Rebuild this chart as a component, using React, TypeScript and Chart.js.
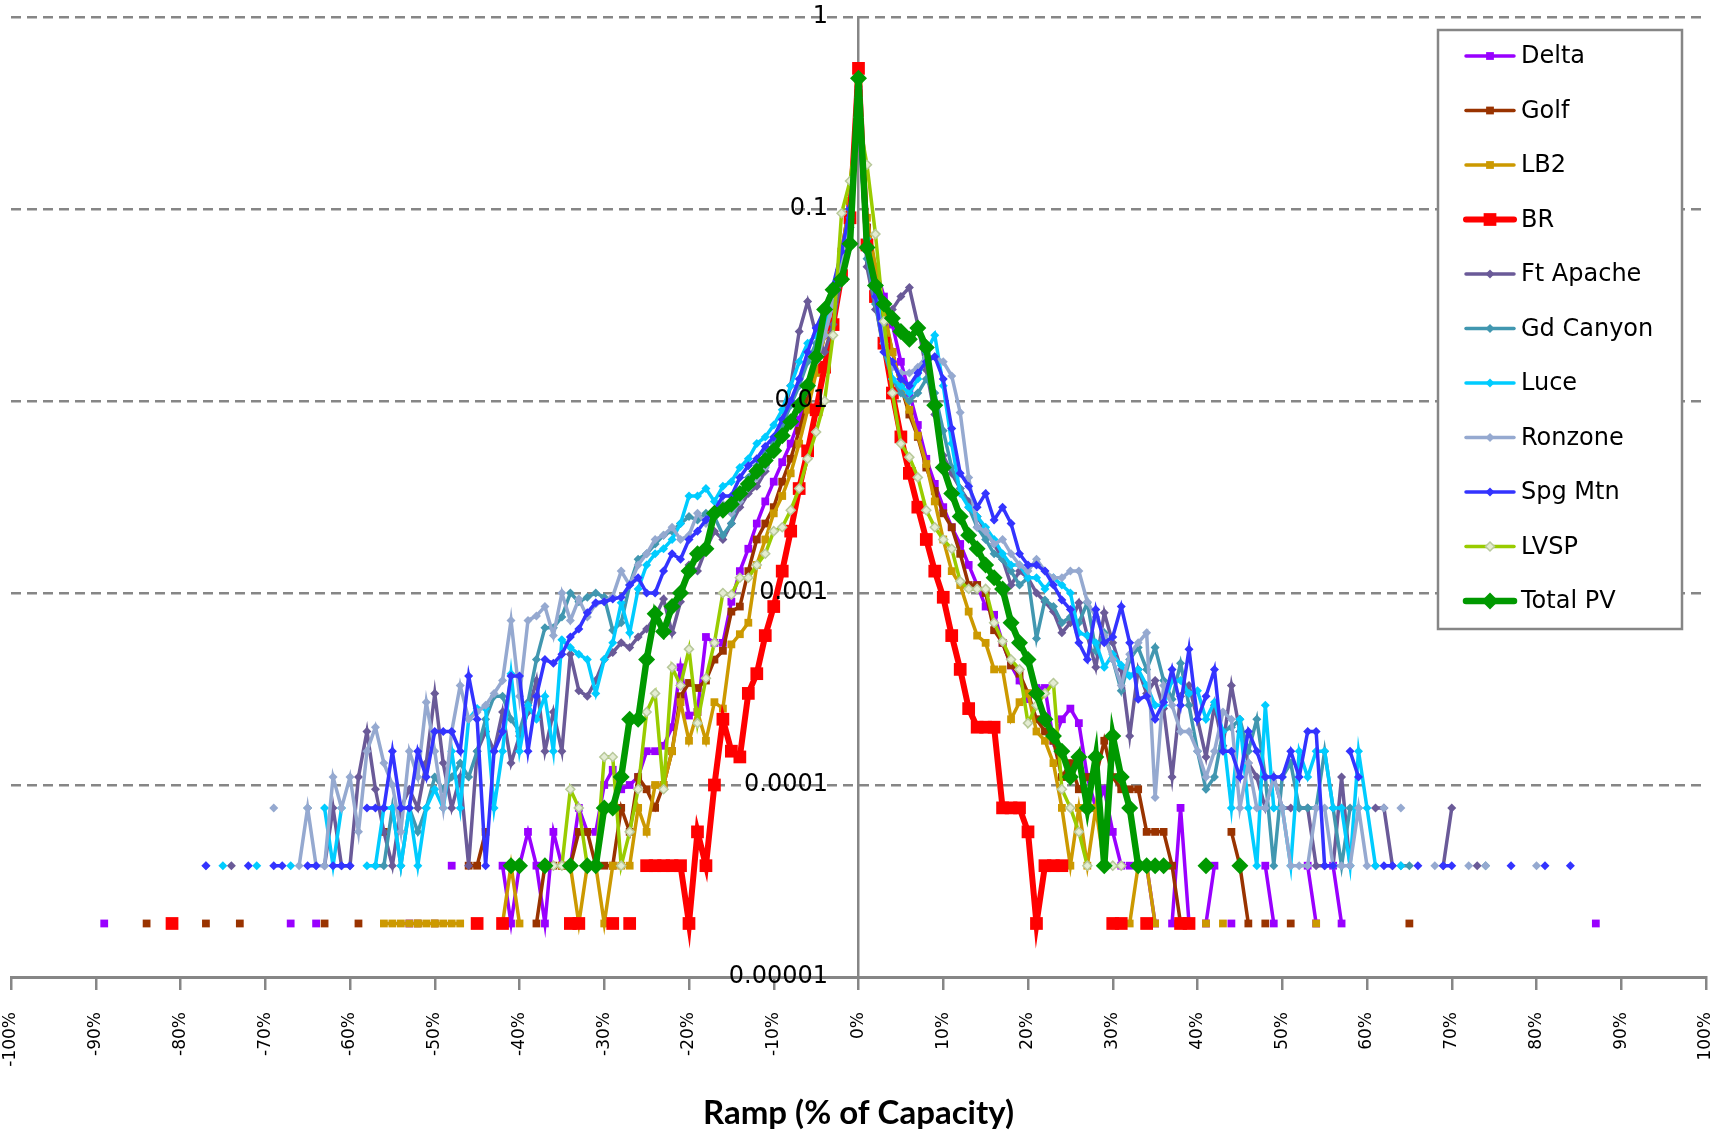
import React, { useEffect, useRef } from "react";
import { Chart, registerables } from "chart.js";

Chart.register(...registerables);

type Pt = [number, number];

// ramp bins (% of capacity), one per 1 %
const RAMP_BINS: number[] = Array.from({ length: 201 }, (_, i) => i - 100);
const X_TICKS = [-100, -90, -80, -70, -60, -50, -40, -30, -20, -10, 0, 10, 20, 30, 40, 50, 60, 70, 80, 90, 100];
const Y_TICKS = [0.00001, 0.0001, 0.001, 0.01, 0.1, 1];
const SERIES_NAMES = ["Delta", "Golf", "LB2", "BR", "Ft Apache", "Gd Canyon", "Luce", "Ronzone", "Spg Mtn", "LVSP", "Total PV"];

const DELTA: Pt[] = [
  [-89, 1.9e-5], [-67, 1.9e-5], [-64, 1.9e-5], [-53, 1.9e-5], [-48, 3.8e-5],
  [-42, 3.8e-5], [-41, 1.9e-5], [-40, 3.8e-5], [-39, 5.7e-5], [-38, 3.8e-5], [-37, 1.9e-5], [-36, 5.7e-5],
  [-35, 3.8e-5], [-34, 3.8e-5], [-33, 7.6e-5], [-32, 5.7e-5], [-31, 5.7e-5], [-30, 1.0e-4], [-29, 1.2e-4],
  [-28, 9.5e-5], [-27, 1.0e-4], [-26, 1.1e-4], [-25, 1.5e-4], [-24, 1.5e-4], [-23, 1.6e-4], [-22, 2.0e-4],
  [-21, 4.1e-4], [-20, 2.3e-4], [-19, 2.4e-4], [-18, 5.9e-4], [-17, 5.5e-4], [-16, 5.5e-4], [-15, 9.0e-4],
  [-14, 1.3e-3], [-13, 1.7e-3], [-12, 2.3e-3], [-11, 3.0e-3], [-10, 3.8e-3], [-9, 4.8e-3], [-8, 6.0e-3],
  [-7, 8.0e-3], [-6, 1.1e-2], [-5, 1.6e-2], [-4, 2.4e-2], [-3, 3.5e-2], [-2, 5.5e-2], [-1, 0.1], [0, 0.42],
  [1, 0.08], [2, 0.05], [3, 0.035], [4, 0.025], [5, 0.016], [6, 0.011], [7, 0.0075], [8, 0.005], [9, 0.0037],
  [10, 0.0028], [11, 0.0022], [12, 0.0018], [13, 0.0014], [14, 0.0011], [15, 8.5e-4], [16, 7.7e-4], [17, 5.5e-4],
  [18, 4.2e-4], [19, 3.5e-4], [20, 2.8e-4], [21, 3.2e-4], [22, 3.2e-4], [23, 1.7e-4], [24, 2.2e-4], [25, 2.5e-4],
  [26, 2.1e-4], [27, 1.1e-4], [28, 7.6e-5], [29, 9.5e-5], [30, 5.7e-5], [31, 3.8e-5], [32, 3.8e-5],
  [34, 3.8e-5], [35, 1.9e-5], [37, 1.9e-5], [38, 7.6e-5], [39, 1.9e-5], [41, 1.9e-5], [42, 3.8e-5],
  [44, 1.9e-5], [48, 3.8e-5], [49, 1.9e-5], [53, 3.8e-5], [54, 1.9e-5], [56, 3.8e-5], [57, 1.9e-5], [87, 1.9e-5],
];

const GOLF: Pt[] = [
  [-84, 1.9e-5], [-77, 1.9e-5], [-73, 1.9e-5], [-63, 1.9e-5], [-59, 1.9e-5], [-56, 5.7e-5], [-52, 1.9e-5],
  [-50, 1.9e-5], [-46, 3.8e-5], [-45, 3.8e-5], [-44, 5.7e-5], [-38, 1.9e-5], [-37, 3.8e-5], [-36, 3.8e-5],
  [-35, 3.8e-5], [-34, 3.8e-5], [-33, 5.7e-5], [-32, 5.7e-5], [-31, 3.8e-5], [-30, 3.8e-5], [-29, 3.8e-5],
  [-28, 7.6e-5], [-27, 5.7e-5], [-26, 1.1e-4], [-25, 9.5e-5], [-24, 7.6e-5], [-23, 1.0e-4], [-22, 1.5e-4],
  [-21, 2.9e-4], [-20, 3.4e-4], [-19, 3.2e-4], [-18, 3.5e-4], [-17, 4.5e-4], [-16, 5.0e-4], [-15, 8.0e-4],
  [-14, 8.5e-4], [-13, 1.3e-3], [-12, 1.9e-3], [-11, 2.3e-3], [-10, 2.8e-3], [-9, 3.8e-3], [-8, 5.0e-3],
  [-7, 7.0e-3], [-6, 1.0e-2], [-5, 1.5e-2], [-4, 2.2e-2], [-3, 3.5e-2], [-2, 6.0e-2], [-1, 0.11], [0, 0.4],
  [1, 0.08], [2, 0.045], [3, 0.028], [4, 0.018], [5, 0.012], [6, 0.0085], [7, 0.0065], [8, 0.0045], [9, 0.0034],
  [10, 0.0026], [11, 0.0022], [12, 0.0016], [13, 0.0011], [14, 0.0011], [15, 0.001], [16, 6.4e-4], [17, 5.5e-4],
  [18, 4.2e-4], [19, 3.8e-4], [20, 3.0e-4], [21, 2.2e-4], [22, 1.9e-4], [23, 1.7e-4], [24, 1.1e-4], [25, 1.3e-4],
  [26, 9.5e-5], [27, 1.1e-4], [28, 1.1e-4], [29, 1.7e-4], [30, 1.1e-4], [31, 9.5e-5], [32, 9.5e-5], [33, 9.5e-5],
  [34, 5.7e-5], [35, 5.7e-5], [36, 5.7e-5], [37, 3.8e-5], [38, 1.9e-5], [44, 5.7e-5], [45, 3.8e-5], [46, 1.9e-5],
  [48, 1.9e-5], [51, 1.9e-5], [65, 1.9e-5],
];

const LB2: Pt[] = [
  [-56, 1.9e-5], [-55, 1.9e-5], [-54, 1.9e-5], [-53, 1.9e-5], [-52, 1.9e-5], [-51, 1.9e-5], [-50, 1.9e-5],
  [-49, 1.9e-5], [-48, 1.9e-5], [-47, 1.9e-5], [-42, 1.9e-5], [-41, 3.8e-5], [-40, 1.9e-5], [-35, 3.8e-5],
  [-34, 3.8e-5], [-33, 1.9e-5], [-32, 3.8e-5], [-31, 3.8e-5], [-30, 1.9e-5], [-29, 3.8e-5], [-28, 3.8e-5],
  [-27, 3.8e-5], [-26, 7.6e-5], [-25, 5.7e-5], [-24, 1.0e-4], [-23, 1.0e-4], [-22, 1.5e-4], [-21, 2.7e-4],
  [-20, 1.7e-4], [-19, 2.4e-4], [-18, 1.7e-4], [-17, 2.7e-4], [-16, 2.5e-4], [-15, 5.4e-4], [-14, 6.1e-4],
  [-13, 7.0e-4], [-12, 1.4e-3], [-11, 1.9e-3], [-10, 2.6e-3], [-9, 3.2e-3], [-8, 4.2e-3], [-7, 6.0e-3],
  [-6, 9.0e-3], [-5, 1.4e-2], [-4, 2.2e-2], [-3, 3.5e-2], [-2, 6.0e-2], [-1, 0.11], [0, 0.45],
  [1, 0.09], [2, 0.05], [3, 0.03], [4, 0.018], [5, 0.012], [6, 0.009], [7, 0.0066], [8, 0.0047], [9, 0.003],
  [10, 0.0019], [11, 0.0013], [12, 0.0011], [13, 8.0e-4], [14, 6.0e-4], [15, 5.5e-4], [16, 4.0e-4], [17, 4.0e-4],
  [18, 2.2e-4], [19, 2.7e-4], [20, 3.0e-4], [21, 1.9e-4], [22, 1.7e-4], [23, 1.3e-4], [24, 7.6e-5], [25, 3.8e-5],
  [26, 7.6e-5], [27, 3.8e-5], [28, 7.6e-5], [29, 3.8e-5], [31, 1.9e-5], [32, 1.9e-5], [33, 3.8e-5], [34, 3.8e-5],
  [35, 1.9e-5], [41, 1.9e-5], [43, 1.9e-5], [54, 1.9e-5],
];

const BR: Pt[] = [
  [-81, 1.9e-5], [-45, 1.9e-5], [-42, 1.9e-5], [-34, 1.9e-5], [-33, 1.9e-5], [-29, 1.9e-5], [-27, 1.9e-5],
  [-25, 3.8e-5], [-24, 3.8e-5], [-23, 3.8e-5], [-22, 3.8e-5], [-21, 3.8e-5], [-20, 1.9e-5], [-19, 5.7e-5],
  [-18, 3.8e-5], [-17, 1.0e-4], [-16, 2.2e-4], [-15, 1.5e-4], [-14, 1.4e-4], [-13, 3.0e-4], [-12, 3.8e-4],
  [-11, 6.0e-4], [-10, 8.5e-4], [-9, 1.3e-3], [-8, 2.1e-3], [-7, 3.5e-3], [-6, 5.5e-3], [-5, 9.0e-3],
  [-4, 1.5e-2], [-3, 2.5e-2], [-2, 4.5e-2], [-1, 0.09], [0, 0.54],
  [1, 0.065], [2, 0.035], [3, 0.02], [4, 0.011], [5, 0.0065], [6, 0.0042], [7, 0.0028], [8, 0.0019], [9, 0.0013],
  [10, 9.5e-4], [11, 6.0e-4], [12, 4.0e-4], [13, 2.5e-4], [14, 2.0e-4], [15, 2.0e-4], [16, 2.0e-4], [17, 7.6e-5],
  [18, 7.6e-5], [19, 7.6e-5], [20, 5.7e-5], [21, 1.9e-5], [22, 3.8e-5], [23, 3.8e-5], [24, 3.8e-5],
  [30, 1.9e-5], [31, 1.9e-5], [34, 1.9e-5], [38, 1.9e-5], [39, 1.9e-5],
];

const FT_APACHE: Pt[] = [
  [-74, 3.8e-5], [-63, 3.8e-5], [-62, 7.6e-5], [-61, 3.8e-5], [-60, 3.8e-5], [-59, 1.1e-4], [-58, 1.9e-4],
  [-57, 9.5e-5], [-56, 5.7e-5], [-55, 3.8e-5], [-54, 7.6e-5], [-53, 9.5e-5], [-52, 7.6e-5], [-51, 1.3e-4],
  [-50, 3.0e-4], [-49, 1.3e-4], [-48, 7.6e-5], [-47, 1.1e-4], [-46, 3.8e-5], [-45, 1.5e-4], [-44, 1.9e-4],
  [-43, 1.5e-4], [-42, 2.4e-4], [-41, 1.3e-4], [-40, 1.8e-4], [-39, 2.4e-4], [-38, 3.5e-4], [-37, 1.5e-4],
  [-36, 2.4e-4], [-35, 1.5e-4], [-34, 4.8e-4], [-33, 3.1e-4], [-32, 2.9e-4], [-31, 3.5e-4], [-30, 4.5e-4],
  [-29, 4.9e-4], [-28, 5.5e-4], [-27, 5.2e-4], [-26, 5.9e-4], [-25, 6.5e-4], [-24, 7.5e-4], [-23, 9.3e-4],
  [-22, 6.2e-4], [-21, 9.0e-4], [-20, 1.4e-3], [-19, 1.3e-3], [-18, 1.7e-3], [-17, 2.1e-3], [-16, 1.9e-3],
  [-15, 2.3e-3], [-14, 2.8e-3], [-13, 3.3e-3], [-12, 3.6e-3], [-11, 4.3e-3], [-10, 5.5e-3], [-9, 8.0e-3],
  [-8, 1.2e-2], [-7, 2.3e-2], [-6, 3.3e-2], [-5, 2.2e-2], [-4, 1.8e-2], [-3, 2.5e-2], [-2, 4.5e-2], [-1, 0.08],
  [0, 0.35], [1, 0.05], [2, 0.03], [3, 0.025], [4, 0.03], [5, 0.035], [6, 0.039], [7, 0.025], [8, 0.0145],
  [9, 0.0085], [10, 0.0052], [11, 0.0042], [12, 0.0035], [13, 0.003], [14, 0.0025], [15, 0.0021], [16, 0.0018],
  [17, 0.0015], [18, 0.0011], [19, 0.0013], [20, 0.0012], [21, 0.001], [22, 9.0e-4], [23, 8.0e-4], [24, 6.2e-4],
  [25, 7.0e-4], [26, 8.9e-4], [27, 6.0e-4], [28, 4.1e-4], [29, 7.9e-4], [30, 5.5e-4], [31, 4.0e-4], [32, 1.8e-4],
  [33, 4.0e-4], [34, 3.0e-4], [35, 3.5e-4], [36, 2.5e-4], [37, 1.1e-4], [38, 2.9e-4], [39, 3.3e-4], [40, 2.2e-4],
  [41, 1.4e-4], [42, 2.6e-4], [43, 1.6e-4], [44, 3.3e-4], [45, 1.9e-4], [46, 1.3e-4], [47, 1.1e-4], [48, 7.6e-5],
  [49, 1.1e-4], [50, 7.6e-5], [51, 7.6e-5], [52, 7.6e-5], [53, 7.6e-5], [54, 3.8e-5], [55, 3.8e-5], [56, 3.8e-5],
  [57, 1.1e-4], [58, 3.8e-5], [61, 7.6e-5], [62, 7.6e-5], [63, 3.8e-5], [69, 3.8e-5], [70, 7.6e-5], [73, 3.8e-5],
];

const GD_CANYON: Pt[] = [
  [-65, 7.6e-5], [-57, 3.8e-5], [-56, 3.8e-5], [-55, 7.6e-5], [-54, 3.8e-5], [-53, 7.6e-5], [-52, 5.7e-5],
  [-51, 7.6e-5], [-50, 1.1e-4], [-49, 9.5e-5], [-48, 1.1e-4], [-47, 1.3e-4], [-46, 1.1e-4], [-45, 1.5e-4],
  [-44, 2.2e-4], [-43, 2.9e-4], [-42, 2.9e-4], [-41, 2.2e-4], [-40, 1.9e-4], [-39, 2.7e-4], [-38, 4.5e-4],
  [-37, 6.6e-4], [-36, 6.6e-4], [-35, 7.5e-4], [-34, 1.0e-3], [-33, 9.0e-4], [-32, 9.5e-4], [-31, 1.0e-3],
  [-30, 9.5e-4], [-29, 6.4e-4], [-28, 7.0e-4], [-27, 1.1e-3], [-26, 1.5e-3], [-25, 1.6e-3], [-24, 1.8e-3],
  [-23, 2.0e-3], [-22, 2.1e-3], [-21, 2.3e-3], [-20, 2.5e-3], [-19, 2.4e-3], [-18, 2.6e-3], [-17, 2.5e-3],
  [-16, 2.0e-3], [-15, 2.3e-3], [-14, 3.3e-3], [-13, 4.0e-3], [-12, 4.6e-3], [-11, 5.3e-3], [-10, 6.0e-3],
  [-9, 7.5e-3], [-8, 9.5e-3], [-7, 1.2e-2], [-6, 1.6e-2], [-5, 2.0e-2], [-4, 2.6e-2], [-3, 3.5e-2], [-2, 5.0e-2],
  [-1, 0.09], [0, 0.38], [1, 0.055], [2, 0.032], [3, 0.018], [4, 0.013], [5, 0.011], [6, 0.01], [7, 0.011],
  [8, 0.013], [9, 0.011], [10, 0.007], [11, 0.0045], [12, 0.0035], [13, 0.0028], [14, 0.0022], [15, 0.0019],
  [16, 0.0016], [17, 0.0015], [18, 0.0013], [19, 0.0011], [20, 0.0012], [21, 5.8e-4], [22, 9.2e-4], [23, 8.5e-4],
  [24, 7.0e-4], [25, 7.5e-4], [26, 7.0e-4], [27, 8.9e-4], [28, 5.0e-4], [29, 6.2e-4], [30, 4.5e-4], [31, 3.1e-4],
  [32, 4.5e-4], [33, 5.2e-4], [34, 4.0e-4], [35, 5.2e-4], [36, 3.5e-4], [37, 2.8e-4], [38, 4.3e-4], [39, 2.6e-4],
  [40, 1.5e-4], [41, 9.5e-5], [42, 1.1e-4], [43, 1.9e-4], [44, 2.0e-4], [45, 2.2e-4], [46, 1.5e-4], [47, 2.2e-4],
  [48, 1.1e-4], [49, 3.8e-5], [50, 1.1e-4], [51, 1.3e-4], [52, 7.6e-5], [53, 7.6e-5], [54, 7.6e-5], [55, 1.5e-4],
  [56, 7.6e-5], [57, 3.8e-5], [58, 7.6e-5], [59, 7.6e-5], [61, 3.8e-5], [64, 3.8e-5], [65, 3.8e-5], [74, 3.8e-5],
];

const LUCE: Pt[] = [
  [-75, 3.8e-5], [-71, 3.8e-5], [-67, 3.8e-5], [-63, 7.6e-5], [-62, 3.8e-5], [-61, 7.6e-5], [-58, 3.8e-5],
  [-57, 3.8e-5], [-56, 7.6e-5], [-55, 7.6e-5], [-54, 3.8e-5], [-53, 7.6e-5], [-52, 3.8e-5], [-51, 7.6e-5],
  [-50, 9.5e-5], [-49, 7.6e-5], [-48, 1.5e-4], [-47, 7.6e-5], [-46, 2.2e-4], [-45, 2.5e-4], [-44, 2.5e-4],
  [-43, 7.6e-5], [-42, 1.5e-4], [-41, 3.8e-4], [-40, 1.5e-4], [-39, 2.6e-4], [-38, 2.2e-4], [-37, 2.9e-4],
  [-36, 1.5e-4], [-35, 5.7e-4], [-34, 5.2e-4], [-33, 4.8e-4], [-32, 4.5e-4], [-31, 3.0e-4], [-30, 4.5e-4],
  [-29, 5.5e-4], [-28, 8.9e-4], [-27, 6.2e-4], [-26, 1.05e-3], [-25, 1.4e-3], [-24, 1.6e-3], [-23, 1.7e-3],
  [-22, 1.9e-3], [-21, 2.3e-3], [-20, 3.2e-3], [-19, 3.2e-3], [-18, 3.5e-3], [-17, 3.0e-3], [-16, 3.6e-3],
  [-15, 3.8e-3], [-14, 4.5e-3], [-13, 5.0e-3], [-12, 6.0e-3], [-11, 6.5e-3], [-10, 7.5e-3], [-9, 9.0e-3],
  [-8, 1.2e-2], [-7, 1.6e-2], [-6, 2.0e-2], [-5, 2.2e-2], [-4, 2.5e-2], [-3, 3.5e-2], [-2, 5.5e-2], [-1, 0.1],
  [0, 0.33], [1, 0.07], [2, 0.04], [3, 0.02], [4, 0.013], [5, 0.012], [6, 0.011], [7, 0.013], [8, 0.018],
  [9, 0.022], [10, 0.012], [11, 0.006], [12, 0.0033], [13, 0.0028], [14, 0.0025], [15, 0.0022], [16, 0.0019],
  [17, 0.0016], [18, 0.0014], [19, 0.0014], [20, 0.0012], [21, 0.0012], [22, 0.00105], [23, 0.0012], [24, 0.0011],
  [25, 0.001], [26, 6.2e-4], [27, 6.0e-4], [28, 5.5e-4], [29, 4.1e-4], [30, 4.8e-4], [31, 4.2e-4], [32, 3.7e-4],
  [33, 4.0e-4], [34, 3.3e-4], [35, 2.6e-4], [36, 2.6e-4], [37, 3.5e-4], [38, 3.5e-4], [39, 3.0e-4], [40, 3.1e-4],
  [41, 2.2e-4], [42, 2.7e-4], [43, 1.9e-4], [44, 7.6e-5], [45, 2.2e-4], [46, 7.6e-5], [47, 3.8e-5], [48, 2.6e-4],
  [49, 7.6e-5], [50, 7.6e-5], [51, 3.8e-5], [52, 1.5e-4], [53, 1.1e-4], [54, 1.5e-4], [55, 1.5e-4], [56, 7.6e-5],
  [57, 7.6e-5], [58, 3.8e-5], [59, 1.5e-4], [60, 7.6e-5], [61, 3.8e-5], [64, 3.8e-5],
];

const RONZONE: Pt[] = [
  [-77, 3.8e-5], [-69, 7.6e-5], [-66, 3.8e-5], [-65, 7.6e-5], [-64, 3.8e-5], [-63, 3.8e-5], [-62, 1.1e-4],
  [-61, 7.6e-5], [-60, 1.1e-4], [-59, 5.7e-5], [-58, 1.5e-4], [-57, 2.0e-4], [-56, 1.3e-4], [-55, 1.0e-4],
  [-54, 5.7e-5], [-53, 1.5e-4], [-52, 1.1e-4], [-51, 2.7e-4], [-50, 1.5e-4], [-49, 7.6e-5], [-48, 1.9e-4],
  [-47, 3.3e-4], [-46, 2.2e-4], [-45, 2.4e-4], [-44, 2.6e-4], [-43, 3.0e-4], [-42, 3.5e-4], [-41, 7.2e-4],
  [-40, 2.9e-4], [-39, 7.2e-4], [-38, 7.6e-4], [-37, 8.5e-4], [-36, 6.0e-4], [-35, 1.0e-3], [-34, 7.2e-4],
  [-33, 9.3e-4], [-32, 7.5e-4], [-31, 8.8e-4], [-30, 9.0e-4], [-29, 9.6e-4], [-28, 1.3e-3], [-27, 1.1e-3],
  [-26, 1.4e-3], [-25, 1.6e-3], [-24, 1.9e-3], [-23, 2.0e-3], [-22, 2.2e-3], [-21, 1.9e-3], [-20, 2.0e-3],
  [-19, 2.6e-3], [-18, 2.3e-3], [-17, 2.5e-3], [-16, 2.9e-3], [-15, 2.6e-3], [-14, 3.0e-3], [-13, 3.5e-3],
  [-12, 4.0e-3], [-11, 4.5e-3], [-10, 5.5e-3], [-9, 6.5e-3], [-8, 8.0e-3], [-7, 1.0e-2], [-6, 1.2e-2],
  [-5, 1.6e-2], [-4, 2.2e-2], [-3, 3.2e-2], [-2, 5.0e-2], [-1, 0.08], [0, 0.36],
  [1, 0.06], [2, 0.035], [3, 0.02], [4, 0.015], [5, 0.014], [6, 0.014], [7, 0.015], [8, 0.017], [9, 0.017],
  [10, 0.016], [11, 0.0135], [12, 0.0087], [13, 0.004], [14, 0.0022], [15, 0.0021], [16, 0.0018], [17, 0.0019],
  [18, 0.0016], [19, 0.0014], [20, 0.0013], [21, 0.0015], [22, 0.0013], [23, 0.0012], [24, 0.0012], [25, 0.0013],
  [26, 0.0013], [27, 9.0e-4], [28, 7.5e-4], [29, 6.0e-4], [30, 4.5e-4], [31, 3.3e-4], [32, 4.8e-4], [33, 5.5e-4],
  [34, 6.2e-4], [35, 8.6e-5], [36, 3.3e-4], [37, 2.6e-4], [38, 1.9e-4], [39, 1.9e-4], [40, 1.5e-4], [41, 1.1e-4],
  [42, 1.5e-4], [43, 2.4e-4], [44, 2.2e-4], [45, 7.6e-5], [46, 1.3e-4], [47, 7.6e-5], [48, 7.6e-5], [49, 1.1e-4],
  [50, 7.6e-5], [51, 3.8e-5], [52, 3.8e-5], [53, 3.8e-5], [54, 7.6e-5], [55, 7.6e-5], [56, 3.8e-5], [57, 3.8e-5],
  [58, 3.8e-5], [59, 7.6e-5], [60, 3.8e-5], [62, 7.6e-5], [64, 7.6e-5], [68, 3.8e-5], [72, 3.8e-5], [74, 3.8e-5],
  [80, 3.8e-5],
];

const SPG_MTN: Pt[] = [
  [-77, 3.8e-5], [-72, 3.8e-5], [-69, 3.8e-5], [-68, 3.8e-5], [-65, 3.8e-5], [-64, 3.8e-5], [-62, 3.8e-5],
  [-61, 3.8e-5], [-60, 3.8e-5], [-58, 7.6e-5], [-57, 7.6e-5], [-56, 7.6e-5], [-55, 1.5e-4], [-54, 7.6e-5],
  [-53, 7.6e-5], [-52, 1.5e-4], [-51, 1.1e-4], [-50, 1.9e-4], [-49, 1.9e-4], [-48, 1.9e-4], [-47, 1.5e-4],
  [-46, 3.7e-4], [-45, 2.2e-4], [-44, 3.8e-5], [-43, 1.5e-4], [-42, 1.9e-4], [-41, 3.7e-4], [-40, 3.7e-4],
  [-39, 1.5e-4], [-38, 2.9e-4], [-37, 4.5e-4], [-36, 4.3e-4], [-35, 4.8e-4], [-34, 5.9e-4], [-33, 6.5e-4],
  [-32, 7.9e-4], [-31, 8.9e-4], [-30, 9.0e-4], [-29, 9.3e-4], [-28, 9.5e-4], [-27, 1.1e-3], [-26, 1.2e-3],
  [-25, 1.0e-3], [-24, 1.0e-3], [-23, 1.3e-3], [-22, 1.6e-3], [-21, 1.5e-3], [-20, 1.9e-3], [-19, 2.1e-3],
  [-18, 2.4e-3], [-17, 2.7e-3], [-16, 3.2e-3], [-15, 3.2e-3], [-14, 4.0e-3], [-13, 4.6e-3], [-12, 5.0e-3],
  [-11, 5.8e-3], [-10, 6.5e-3], [-9, 8.0e-3], [-8, 1.0e-2], [-7, 1.3e-2], [-6, 1.8e-2], [-5, 2.4e-2],
  [-4, 3.0e-2], [-3, 4.0e-2], [-2, 6.0e-2], [-1, 0.1], [0, 0.3],
  [1, 0.06], [2, 0.035], [3, 0.018], [4, 0.016], [5, 0.013], [6, 0.012], [7, 0.014], [8, 0.016], [9, 0.017],
  [10, 0.013], [11, 0.0072], [12, 0.0042], [13, 0.0036], [14, 0.0028], [15, 0.0033], [16, 0.0024], [17, 0.0028],
  [18, 0.0023], [19, 0.0016], [20, 0.0014], [21, 0.0014], [22, 0.0013], [23, 0.0011], [24, 9.2e-4], [25, 8.2e-4],
  [26, 5.5e-4], [27, 4.5e-4], [28, 8.2e-4], [29, 5.5e-4], [30, 5.9e-4], [31, 8.5e-4], [32, 5.5e-4], [33, 2.8e-4],
  [34, 2.9e-4], [35, 2.2e-4], [36, 2.7e-4], [37, 4.0e-4], [38, 2.6e-4], [39, 5.1e-4], [40, 2.2e-4], [41, 2.9e-4],
  [42, 4.0e-4], [43, 1.5e-4], [44, 1.5e-4], [45, 1.1e-4], [46, 1.9e-4], [47, 1.5e-4], [48, 1.1e-4], [49, 1.1e-4],
  [50, 1.1e-4], [51, 1.5e-4], [52, 1.1e-4], [53, 1.9e-4], [54, 1.9e-4], [55, 3.8e-5], [56, 3.8e-5], [58, 1.5e-4],
  [59, 1.1e-4], [62, 3.8e-5], [63, 3.8e-5], [66, 3.8e-5], [69, 3.8e-5], [70, 3.8e-5], [77, 3.8e-5], [81, 3.8e-5],
  [84, 3.8e-5],
];

const LVSP: Pt[] = [
  [-36, 3.8e-5], [-35, 3.8e-5], [-34, 9.5e-5], [-33, 7.6e-5], [-32, 3.8e-5], [-31, 3.8e-5], [-30, 1.4e-4],
  [-29, 1.4e-4], [-28, 3.8e-5], [-27, 5.7e-5], [-26, 9.5e-5], [-25, 2.4e-4], [-24, 3.0e-4], [-23, 9.5e-5],
  [-22, 4.1e-4], [-21, 3.3e-4], [-20, 5.1e-4], [-19, 2.1e-4], [-18, 3.6e-4], [-17, 5.5e-4], [-16, 1.0e-3],
  [-15, 9.8e-4], [-14, 1.2e-3], [-13, 1.2e-3], [-12, 1.4e-3], [-11, 1.6e-3], [-10, 2.1e-3], [-9, 2.2e-3],
  [-8, 2.7e-3], [-7, 3.5e-3], [-6, 5.0e-3], [-5, 6.9e-3], [-4, 1.0e-2], [-3, 2.2e-2], [-2, 9.5e-2], [-1, 0.14],
  [0, 0.3], [1, 0.17], [2, 0.074], [3, 0.026], [4, 0.011], [5, 0.006], [6, 0.0051], [7, 0.004], [8, 0.0027],
  [9, 0.0022], [10, 0.0019], [11, 0.0017], [12, 0.00115], [13, 0.00105], [14, 0.00105], [15, 0.00105], [16, 7.0e-4],
  [17, 5.6e-4], [18, 4.5e-4], [19, 4.0e-4], [20, 2.1e-4], [21, 2.6e-4], [22, 3.0e-4], [23, 3.4e-4], [24, 9.5e-5],
  [25, 7.6e-5], [26, 5.7e-5], [27, 3.8e-5], [29, 3.8e-5], [30, 3.8e-5], [31, 3.8e-5],
];

const TOTAL_PV: Pt[] = [
  [-41, 3.8e-5], [-40, 3.8e-5], [-37, 3.8e-5], [-34, 3.8e-5], [-32, 3.8e-5], [-31, 3.8e-5], [-30, 7.6e-5],
  [-29, 7.6e-5], [-28, 1.1e-4], [-27, 2.2e-4], [-26, 2.2e-4], [-25, 4.5e-4], [-24, 7.8e-4], [-23, 6.3e-4],
  [-22, 8.5e-4], [-21, 1.0e-3], [-20, 1.3e-3], [-19, 1.6e-3], [-18, 1.7e-3], [-17, 2.6e-3], [-16, 2.7e-3],
  [-15, 2.9e-3], [-14, 3.3e-3], [-13, 3.7e-3], [-12, 4.3e-3], [-11, 4.9e-3], [-10, 5.5e-3], [-9, 6.6e-3],
  [-8, 7.8e-3], [-7, 9.5e-3], [-6, 1.2e-2], [-5, 1.7e-2], [-4, 3.0e-2], [-3, 3.8e-2], [-2, 4.3e-2], [-1, 0.066],
  [0, 0.48], [1, 0.063], [2, 0.04], [3, 0.032], [4, 0.027], [5, 0.023], [6, 0.021], [7, 0.024], [8, 0.019],
  [9, 0.0095], [10, 0.0045], [11, 0.0033], [12, 0.0025], [13, 0.002], [14, 0.0017], [15, 0.0014], [16, 0.0012],
  [17, 0.00105], [18, 7.0e-4], [19, 5.5e-4], [20, 4.5e-4], [21, 3.0e-4], [22, 2.2e-4], [23, 1.8e-4], [24, 1.5e-4],
  [25, 1.1e-4], [26, 1.4e-4], [27, 7.6e-5], [28, 1.4e-4], [29, 3.8e-5], [30, 1.8e-4], [31, 1.1e-4], [32, 7.6e-5],
  [33, 3.8e-5], [34, 3.8e-5], [35, 3.8e-5], [36, 3.8e-5], [41, 3.8e-5], [45, 3.8e-5],
];

const SERIES_VALUES: Pt[][] = [DELTA, GOLF, LB2, BR, FT_APACHE, GD_CANYON, LUCE, RONZONE, SPG_MTN, LVSP, TOTAL_PV];

// visual styles (kept apart from data)
type Sty = { color: string; width: number; shape: "rect" | "rectRot"; r: number; fill?: string; stroke?: string };
const STYLES: Sty[] = [
  { color: "#9900FF", width: 3.5, shape: "rect", r: 5.5 },
  { color: "#993300", width: 3.5, shape: "rect", r: 5.5 },
  { color: "#CC9900", width: 3.5, shape: "rect", r: 5.5 },
  { color: "#FF0000", width: 6, shape: "rect", r: 9 },
  { color: "#6A5A98", width: 3.5, shape: "rectRot", r: 4.5 },
  { color: "#4197B0", width: 3.5, shape: "rectRot", r: 4.5 },
  { color: "#00CCFF", width: 3.5, shape: "rectRot", r: 4.5 },
  { color: "#95A9D0", width: 3.5, shape: "rectRot", r: 4.5 },
  { color: "#3333FF", width: 3.5, shape: "rectRot", r: 4.5 },
  { color: "#99CC00", width: 3.5, shape: "rectRot", r: 4.5, fill: "#E4ECD3", stroke: "#B8C99A" },
  { color: "#009900", width: 6.5, shape: "rectRot", r: 8.5 },
];

const GRAY = "#868686";
const FONT = "'DejaVu Sans', 'Noto Sans', sans-serif";

const boxLegend = {
  id: "boxLegend",
  afterDraw(chart: any) {
    const ctx: CanvasRenderingContext2D = chart.ctx;
    const x0 = 1438, y0 = 30, w = 244, h = 599;
    ctx.save();
    ctx.fillStyle = "#ffffff";
    ctx.fillRect(x0, y0, w, h);
    ctx.strokeStyle = GRAY;
    ctx.lineWidth = 2.5;
    ctx.strokeRect(x0, y0, w, h);
    SERIES_NAMES.forEach((name, i) => {
      const s = STYLES[i];
      const y = 56 + i * 54.5;
      ctx.strokeStyle = s.color;
      ctx.lineWidth = s.width;
      ctx.lineCap = "round";
      ctx.beginPath();
      ctx.moveTo(1466, y);
      ctx.lineTo(1514, y);
      ctx.stroke();
      ctx.fillStyle = s.fill || s.color;
      ctx.beginPath();
      if (s.shape === "rect") {
        const hs = s.r * Math.SQRT1_2;
        ctx.rect(1490 - hs, y - hs, 2 * hs, 2 * hs);
      } else {
        ctx.moveTo(1490, y - s.r);
        ctx.lineTo(1490 + s.r, y);
        ctx.lineTo(1490, y + s.r);
        ctx.lineTo(1490 - s.r, y);
        ctx.closePath();
      }
      ctx.fill();
      if (s.stroke) {
        ctx.strokeStyle = s.stroke;
        ctx.lineWidth = 1.5;
        ctx.stroke();
      }
      ctx.fillStyle = "#000";
      ctx.font = `24px ${FONT}`;
      ctx.textAlign = "left";
      ctx.textBaseline = "middle";
      ctx.fillText(name, 1521, y + 1);
    });
    ctx.restore();
  },
};

export default function App() {
  const ref = useRef<HTMLCanvasElement | null>(null);

  useEffect(() => {
    if (!ref.current) return;
    const datasets = SERIES_VALUES.map((pts, i) => {
      const m = new Map<number, number>(pts);
      const s = STYLES[i];
      return {
        label: SERIES_NAMES[i],
        data: RAMP_BINS.map((p) => (m.has(p) ? (m.get(p) as number) : null)),
        borderColor: s.color,
        backgroundColor: s.color,
        borderWidth: s.width,
        pointStyle: s.shape,
        pointRadius: s.r,
        pointHoverRadius: s.r,
        pointBackgroundColor: s.fill || s.color,
        pointBorderColor: s.stroke || s.color,
        pointBorderWidth: s.stroke ? 1.5 : 0,
        spanGaps: false,
        tension: 0,
        fill: false,
        order: SERIES_NAMES.length - i,
      };
    });

    const chart = new Chart(ref.current, {
      type: "line",
      data: { labels: RAMP_BINS, datasets: datasets as any },
      options: {
        responsive: false,
        animation: false,
        devicePixelRatio: 1,
        layout: { padding: { left: 11, right: 15, top: 17, bottom: 0 } },
        plugins: { legend: { display: false }, tooltip: { enabled: false } },
        scales: {
          x: {
            type: "linear",
            min: -100,
            max: 100,
            afterBuildTicks: (s: any) => {
              s.ticks = X_TICKS.map((v) => ({ value: v }));
            },
            afterFit: (s: any) => {
              s.height = 156;
              s.paddingLeft = 0;
              s.paddingRight = 0;
            },
            ticks: {
              autoSkip: false,
              minRotation: 90,
              maxRotation: 90,
              padding: 22,
              color: "#000",
              font: { family: FONT, size: 17 },
              callback: (v: any) => `${v}%`,
            },
            grid: { drawOnChartArea: false, drawTicks: true, tickLength: 13, color: GRAY, lineWidth: 2.5 },
            border: { display: true, color: GRAY, width: 3 },
            title: {
              display: true,
              text: "Ramp (% of Capacity)",
              color: "#000",
              font: { family: "Lato, 'Open Sans', sans-serif", size: 33, weight: "bold" },
              padding: { top: 0, bottom: 0 },
            },
          },
          y: {
            type: "logarithmic",
            min: 0.00001,
            max: 1,
            position: { x: 0 } as any,
            afterBuildTicks: (s: any) => {
              s.ticks = Y_TICKS.map((v) => ({ value: v }));
            },
            afterFit: (s: any) => {
              s.paddingTop = 0;
              s.paddingBottom = 0;
            },
            ticks: {
              z: 1, // labels above the series, gridlines below
              color: "#000",
              font: { family: FONT, size: 24 },
              // trailing spaces keep the labels clear of the centre axis line
              callback: (v: any) => `${v}    `,
            },
            grid: { color: GRAY, lineWidth: 2.5, drawTicks: false },
            border: { display: true, color: GRAY, width: 2.5, dash: [10, 6] },
          },
        },
      },
      plugins: [boxLegend],
    });
    return () => chart.destroy();
  }, []);

  return (
    <div style={{ position: "fixed", left: 0, top: 0, width: 1721, height: 1133, background: "#fff" }}>
      <canvas ref={ref} width={1721} height={1133} style={{ display: "block", width: 1721, height: 1133 }} />
    </div>
  );
}
